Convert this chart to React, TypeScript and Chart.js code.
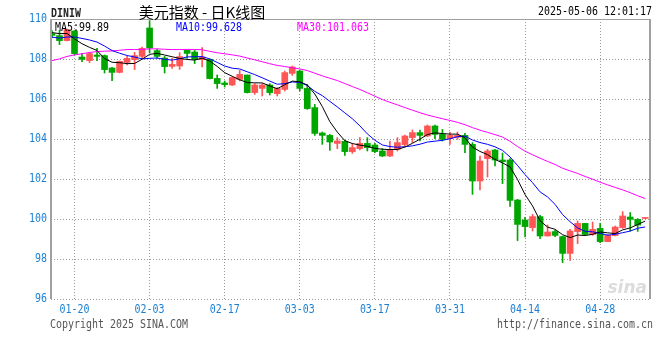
import React, { useEffect, useRef } from "react";
import { Chart, registerables } from "chart.js";
Chart.register(...registerables);

// ---- data ----
const dates = [
  "01-15", "01-16", "01-17",
  "01-20", "01-21", "01-22", "01-23", "01-24",
  "01-27", "01-28", "01-29", "01-30", "01-31",
  "02-03", "02-04", "02-05", "02-06", "02-07",
  "02-10", "02-11", "02-12", "02-13", "02-14",
  "02-17", "02-18", "02-19", "02-20", "02-21",
  "02-24", "02-25", "02-26", "02-27", "02-28",
  "03-03", "03-04", "03-05", "03-06", "03-07",
  "03-10", "03-11", "03-12", "03-13", "03-14",
  "03-17", "03-18", "03-19", "03-20", "03-21",
  "03-24", "03-25", "03-26", "03-27", "03-28",
  "03-31", "04-01", "04-02", "04-03", "04-04",
  "04-07", "04-08", "04-09", "04-10", "04-11",
  "04-14", "04-15", "04-16", "04-17", "04-18",
  "04-21", "04-22", "04-23", "04-24", "04-25",
  "04-28", "04-29", "04-30", "05-01", "05-02",
  "05-05", "05-06",
];

const opens = [
  109.27, 109.17, 108.92,
  109.4, 108.1, 107.92, 108.2, 108.17,
  107.55, 107.33, 107.83, 107.97, 108.13,
  109.55, 108.42, 108.05, 107.63, 107.65,
  108.43, 108.35, 107.97, 107.98, 107.03,
  106.8, 106.7, 106.98, 107.2, 106.32,
  106.53, 106.7, 106.27, 106.48, 107.28,
  107.4, 106.53, 105.57, 104.3, 104.18,
  103.78, 103.88, 103.37, 103.52, 103.78,
  103.7, 103.4, 103.15, 103.48, 103.72,
  104.07, 104.32, 104.15, 104.65, 104.23,
  104.02, 104.08, 104.18, 103.73, 101.9,
  103.02, 103.45, 102.95, 102.95, 100.95,
  99.95, 99.57, 100.12, 99.15, 99.37,
  99.12, 98.28, 99.37, 99.78, 99.23,
  99.53, 98.87, 99.17, 99.57, 100.1,
  99.98, 100.03,
];

const highs = [
  109.42, 109.42, 109.5,
  109.42, 108.28, 108.33, 108.53, 108.2,
  107.58, 107.9, 108.13, 108.33, 108.6,
  109.92, 108.5, 108.13, 108.03, 108.32,
  108.45, 108.43, 108.57, 108.0, 107.2,
  106.9, 107.1, 107.43, 107.2, 106.77,
  106.77, 106.77, 106.57, 107.4, 107.65,
  107.45, 106.73, 105.73, 104.35, 104.23,
  104.07, 103.95, 103.78, 104.07, 104.07,
  103.78, 103.52, 103.9, 104.07, 104.2,
  104.45, 104.45, 104.7, 104.7, 104.48,
  104.35, 104.35, 104.28, 103.82, 103.15,
  103.48, 103.48, 103.3, 103.02, 100.98,
  100.08, 100.23, 100.18, 99.7, 99.43,
  99.15, 99.48, 99.9, 99.78, 99.85,
  99.78, 99.23, 99.65, 100.37, 100.32,
  100.02, 100.06,
];

const lows = [
  109.07, 108.72, 108.9,
  108.2, 107.87, 107.82, 107.92, 107.3,
  106.92, 107.3, 107.7, 107.47, 108.03,
  108.3, 108.03, 107.3, 107.53, 107.48,
  108.03, 107.77, 107.6, 107.0, 106.53,
  106.6, 106.67, 106.9, 106.3, 106.23,
  106.15, 106.2, 106.15, 106.4, 107.18,
  106.4, 105.48, 104.18, 103.73, 103.43,
  103.52, 103.18, 103.28, 103.45, 103.4,
  103.32, 103.12, 103.12, 103.4, 103.65,
  103.82, 103.9, 104.12, 104.02, 103.9,
  103.73, 103.98, 103.32, 101.23, 101.46,
  102.1, 102.66, 101.77, 100.63, 98.92,
  99.1, 99.4, 99.02, 99.15, 99.12,
  97.82, 97.93, 98.77, 99.2, 99.18,
  98.82, 98.87, 99.15, 99.53, 99.4,
  99.38, 100.02,
];

const closes = [
  109.18, 108.92, 109.47,
  108.27, 107.98, 108.27, 108.13, 107.47,
  107.33, 107.88, 108.03, 108.17, 108.53,
  108.55, 108.13, 107.62, 107.73, 108.12,
  108.28, 107.98, 108.1, 107.02, 106.77,
  106.72, 107.07, 107.23, 106.32, 106.7,
  106.7, 106.32, 106.53, 107.32, 107.6,
  106.53, 105.52, 104.28, 104.18, 103.85,
  103.9, 103.37, 103.57, 103.78, 103.57,
  103.37, 103.15, 103.48, 103.82, 104.15,
  104.32, 104.18, 104.65, 104.23, 103.98,
  104.18, 104.18, 103.73, 101.9, 102.9,
  103.4, 102.95, 102.87, 100.93, 99.73,
  99.62, 100.12, 99.15, 99.35, 99.18,
  98.28, 99.4, 99.78, 99.23, 99.48,
  98.87, 99.18, 99.6, 100.15, 99.98,
  99.7, 100.05,
];

// closes of the 29 sessions before the first candle (needed by the moving averages)
const priorCloses = [
  106.35, 105.74, 106.06, 106.16, 106.4, 106.7, 106.97, 107.0,
  106.83, 106.95, 108.08, 108.4, 107.8, 108.04, 108.26, 108.2,
  108.13, 108.0, 108.1, 108.49, 109.4, 108.92, 108.26, 108.7,
  109.05, 109.17, 109.45, 109.6, 109.2,
];

const tickLabels = ["01-20", "02-03", "02-17", "03-03", "03-17", "03-31", "04-14", "04-28"];
const yTicks = [110, 108, 106, 104, 102, 100, 98, 96];
const maPeriods = [5, 10, 30];
const maLegend = ["MA5:99.89", "MA10:99.628", "MA30:101.063"];
const titleText = "美元指数 - 日K线图";
const symbolText = "DINIW";
const stampText = "2025-05-06 12:01:17";
const copyrightText = "Copyright 2025 SINA.COM";
const urlText = "http://finance.sina.com.cn";
const logoText = "sina";

// ---- styles ----
const UP = "#ff5656";
const DOWN = "#00a600";
const MA_COLORS = ["#000000", "#0000ff", "#ff00ff"];
const AXIS_BLUE = "#1a7fd4";
const MONO = '"DejaVu Sans Mono", monospace';
const SX = 0.83;

function drawText(ctx: any, s: string, x: number, y: number, font: string, color: string, align: string, sx = 1) {
  ctx.save();
  ctx.font = font;
  ctx.fillStyle = color;
  ctx.textBaseline = "middle";
  ctx.textAlign = align;
  ctx.translate(x, y);
  ctx.scale(sx, 1);
  ctx.fillText(s, 0, 0);
  ctx.restore();
}

export default function App() {
  const ref = useRef<HTMLCanvasElement>(null);

  useEffect(() => {
    const canvas = ref.current as HTMLCanvasElement;
    const xs = closes.map((_, i) => i + 1);
    const colors = closes.map((c, i) => (c >= opens[i] ? UP : DOWN));
    const all = [...priorCloses, ...closes];
    const ma = (p: number) =>
      closes.map((_, i) => {
        const e = priorCloses.length + i;
        let s = 0;
        for (let k = e - p + 1; k <= e; k++) s += all[k];
        return { x: xs[i], y: s / p };
      });
    const tickVals = tickLabels.map((l) => dates.indexOf(l) + 1);

    const deco = {
      id: "deco",
      afterDraw(chart: any) {
        const ctx = chart.ctx;
        const a = chart.chartArea;
        const xS = chart.scales.x;
        const yS = chart.scales.y;
        ctx.save();
        ctx.strokeStyle = "#a0a0a0";
        ctx.lineWidth = 1;
        ctx.beginPath();
        ctx.moveTo(a.left, a.top + 0.5);
        ctx.lineTo(a.right, a.top + 0.5);
        ctx.stroke();
        ctx.lineWidth = 2;
        ctx.beginPath();
        ctx.moveTo(a.left, a.top);
        ctx.lineTo(a.left, a.bottom);
        ctx.moveTo(a.right, a.top);
        ctx.lineTo(a.right, a.bottom);
        ctx.stroke();
        ctx.restore();

        drawText(ctx, logoText, a.right - 3, a.bottom - 10, 'italic bold 17px "DejaVu Sans", sans-serif', "#dcdcdc", "right");

        drawText(ctx, titleText, 202, 12, '15px "Noto Sans CJK SC", sans-serif', "#000", "center");
        drawText(ctx, symbolText, a.left, 14, 'bold 12px "Liberation Mono", monospace', "#222", "left", SX);
        drawText(ctx, stampText, 652, 12, "12px " + MONO, "#000", "right", SX);

        const legendX = [a.left + 4, a.left + 125, a.left + 246];
        maLegend.forEach((s, i) => drawText(ctx, s, legendX[i], a.top + 9, "12px " + MONO, MA_COLORS[i], "left", SX));

        yTicks.forEach((v) => drawText(ctx, String(v), a.left - 4, yS.getPixelForValue(v), "12px " + MONO, AXIS_BLUE, "right", SX));
        tickLabels.forEach((l, i) => drawText(ctx, l, xS.getPixelForValue(tickVals[i]), a.bottom + 11, "12px " + MONO, AXIS_BLUE, "center", SX));

        drawText(ctx, copyrightText, a.left - 1, a.bottom + 26, "12px " + MONO, "#555", "left", SX);
        drawText(ctx, urlText, 653, a.bottom + 26, "12px " + MONO, "#555", "right", SX);
      },
    };

    const chart = new Chart(canvas, {
      type: "bar",
      data: {
        datasets: [
          ...maPeriods.map((p, i) => ({
            type: "line" as const,
            data: ma(p),
            borderColor: MA_COLORS[i],
            borderWidth: 1,
            pointRadius: 0,
            tension: 0,
            order: i,
          })),
          {
            type: "bar" as const,
            data: xs.map((x, i) => ({ x, y: [opens[i], closes[i]] })),
            backgroundColor: colors,
            borderWidth: 0,
            barThickness: 6,
            minBarLength: 1,
            grouped: false,
            order: 5,
          },
          {
            type: "bar" as const,
            data: xs.map((x, i) => ({ x, y: [lows[i], highs[i]] })),
            backgroundColor: colors,
            borderWidth: 0,
            barThickness: 1,
            grouped: false,
            order: 6,
          },
        ] as any,
      },
      options: {
        animation: false,
        responsive: false,
        devicePixelRatio: 1,
        layout: { padding: { left: 51, right: 10, top: 19, bottom: 61 } },
        plugins: { legend: { display: false }, tooltip: { enabled: false }, title: { display: false } },
        scales: {
          x: {
            type: "linear",
            offset: false,
            min: 0.87,
            max: 80.64,
            afterBuildTicks: (s: any) => {
              s.ticks = tickVals.map((v) => ({ value: v }));
            },
            afterFit: (s: any) => {
              s.height = 0;
            },
            ticks: { display: false },
            grid: { color: "#9a9a9a", drawTicks: false, lineWidth: 1, offset: false },
            border: { display: false, dash: [1, 2] },
          },
          y: {
            type: "linear",
            min: 96,
            max: 110,
            afterBuildTicks: (s: any) => {
              s.ticks = yTicks.map((v) => ({ value: v }));
            },
            afterFit: (s: any) => {
              s.width = 0;
            },
            ticks: { display: false },
            grid: { color: "#9a9a9a", drawTicks: false, lineWidth: 1 },
            border: { display: false, dash: [1, 2] },
          },
        },
      } as any,
      plugins: [deco],
    });
    return () => chart.destroy();
  }, []);

  return (
    <div style={{ position: "absolute", left: 0, top: 0, width: 660, height: 360, background: "#fff" }}>
      <canvas ref={ref} width={660} height={360} style={{ display: "block", width: 660, height: 360 }} />
    </div>
  );
}
